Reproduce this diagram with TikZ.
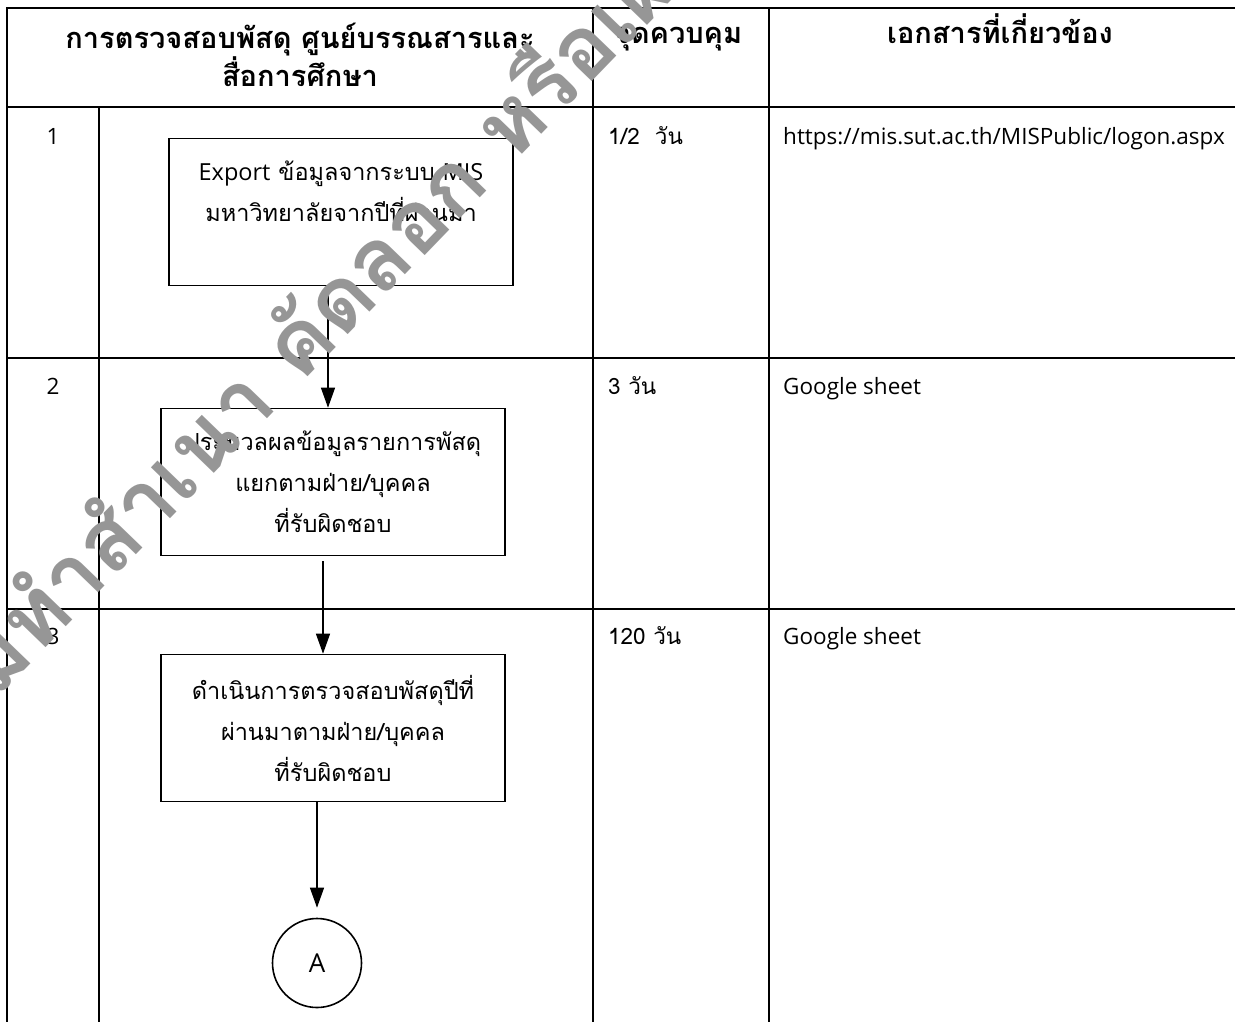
\documentclass[tikz,border=0pt]{standalone}
\usepackage{fontspec}
\setmainfont{Loma}[Script=Thai]
\newfontfamily\latinfont{Open Sans}
\usetikzlibrary{arrows.meta}

\definecolor{markgray}{RGB}{150,150,150}

\tikzset{
  rule/.style={line width=2.4pt},
  stepbox/.style={draw, line width=1.6pt, minimum width=344pt, minimum height=147pt,
    inner sep=0pt, align=center, font=\fontsize{23.5}{41}\selectfont},
  headtext/.style={inner sep=0pt, align=center, font=\fontsize{29}{36}\selectfont\bfseries},
  celltext/.style={inner sep=0pt, anchor=base west, font=\fontsize{22.5}{26}\selectfont},
  flow/.style={->, line width=1.1pt},
}

\begin{document}
\begin{tikzpicture}[x=1pt, y=-1pt, >={Triangle[length=20pt,width=14pt]}]
  \useasboundingbox (0,0) rectangle (1235,1021);
  % Table rules, cut off by the page at the right and at the bottom
  \draw[rule] (7,1030) -- (7,8) -- (1245,8);
  \foreach \yy in {107,358,609}
    \draw[rule] (7,\yy) -- (1245,\yy);
  \draw[rule] (99,107) -- (99,1030);
  \foreach \xx in {593,769}
    \draw[rule] (\xx,8) -- (\xx,1030);

  % Header row
  \node[headtext] (hdflow) at (300,55) {การตรวจสอบพัสดุ ศูนย์บรรณสารและ\\สื่อการศึกษา};
  \node[headtext, anchor=base] (hdctrl) at (678,43) {จุดควบคุม};
  \node[headtext, anchor=base] (hddoc) at (1000,43) {เอกสารที่เกี่ยวข้อง};

  % Step number, time and document of each row
  \foreach \n/\yy/\tm/\doc in {1/144/{1/2~~วัน}/{https://mis.sut.ac.th/MISPublic/logon.aspx},
                              2/394/{3 วัน}/{Google sheet},
                              3/644/{120 วัน}/{Google sheet}} {
    \node[celltext, anchor=base] (num\n) at (53,\yy) {\latinfont\n};
    \node[celltext] (time\n) at (608,\yy) {\tm};
    \node[celltext] (doc\n) at (783,\yy) {\latinfont\doc};
  }

  % Flow of the steps
  \node[stepbox] (export) at (341,212) {{\latinfont Export} ข้อมูลจากระบบ {\latinfont MIS}\\มหาวิทยาลัยจากปีที่ผ่านมา\\[0pt]\mbox{}};
  \node[stepbox] (process) at (333,482) {ประมวลผลข้อมูลรายการพัสดุ\\แยกตามฝ่าย/บุคคล\\ที่รับผิดชอบ};
  \node[stepbox] (check) at (333,728) {ดำเนินการตรวจสอบพัสดุปีที่\\ผ่านมาตามฝ่าย/บุคคล\\ที่รับผิดชอบ};
  \node[draw, circle, line width=1.6pt, minimum size=89pt, inner sep=0pt,
        font=\latinfont\fontsize{26}{30}\selectfont] (conA) at (317,963) {A};

  \draw[flow] ([xshift=-13pt]export.south) -- ([xshift=-5pt]process.north);
  \draw[flow, shorten <=5pt] ([xshift=-10pt]process.south) -- ([xshift=-10pt]check.north);
  \draw[flow, shorten >=10pt] (check.south -| conA.north) -- (conA.north);

  % Watermark across the page
  \node[text=markgray, rotate=46, inner sep=0pt,
        font=\fontsize{88}{92}\selectfont\bfseries] (mark) at (348,282)
        {ห้ามทำสำเนา คัดลอก หรือเผยแพร่};
\end{tikzpicture}
\end{document}
